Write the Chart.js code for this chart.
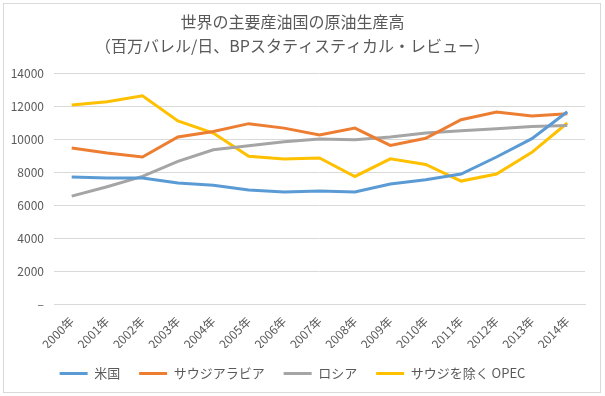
<!DOCTYPE html>
<html>
<head>
<meta charset="utf-8">
<script src="https://cdn.jsdelivr.net/npm/chart.js@4/dist/chart.umd.min.js"></script>
<style>
  body { margin: 0; background: #fff; }
  #wrap { position: relative; width: 605px; height: 396px; }
  #frame { position: absolute; left: 3px; top: 3px; width: 596px; height: 388px; border: 1px solid #d9d9d9; pointer-events: none; }
</style>
</head>
<body>
<div id="wrap">
  <canvas id="oilChart" width="605" height="396"></canvas>
  <div id="frame"></div>
</div>
<script>
const years = ["2000年", "2001年", "2002年", "2003年", "2004年", "2005年", "2006年", "2007年",
               "2008年", "2009年", "2010年", "2011年", "2012年", "2013年", "2014年"];
const usa = [7700, 7640, 7640, 7330, 7190, 6910, 6790, 6850, 6790, 7270, 7530, 7880, 8910, 10020, 11650];
const saudi = [9450, 9150, 8910, 10120, 10460, 10930, 10660, 10240, 10660, 9610, 10040, 11170, 11630, 11390, 11530];
const russia = [6540, 7110, 7730, 8640, 9350, 9590, 9830, 10000, 9960, 10120, 10360, 10500, 10620, 10760, 10820];
const opecExSaudi = [12060, 12260, 12620, 11090, 10360, 8950, 8790, 8850, 7730, 8800, 8460, 7450, 7880, 9190, 10970];
const seriesNames = ["米国", "サウジアラビア", "ロシア", "サウジを除く OPEC"];
const yTicks = [0, 2000, 4000, 6000, 8000, 10000, 12000, 14000];

const font = "'Noto Sans CJK JP', 'Noto Sans', sans-serif";
const textColor = "#595959";

function line(label, data, color) {
    return {
        label: label,
        data: data,
        borderColor: color,
        backgroundColor: color,
        borderWidth: 3,
        pointRadius: 0,
        tension: 0,
        fill: false
    };
}

const ctx = document.getElementById("oilChart").getContext("2d");
new Chart(ctx, {
    type: "line",
    data: {
        labels: years,
        datasets: [
            line(seriesNames[0], usa, "#5B9BD5"),
            line(seriesNames[1], saudi, "#ED7D31"),
            line(seriesNames[2], russia, "#A5A5A5"),
            line(seriesNames[3], opecExSaudi, "#FFC000")
        ]
    },
    options: {
        responsive: false,
        animation: false,
        layout: { padding: { left: 0, right: 20, top: 0, bottom: 6 } },
        plugins: {
            title: {
                display: true,
                text: ["世界の主要産油国の原油生産高", "（百万バレル/日、BPスタティスティカル・レビュー）"],
                color: textColor,
                font: { family: font, size: 16, weight: "normal", lineHeight: 1.5 },
                padding: { top: 10, bottom: 15 }
            },
            legend: {
                position: "bottom",
                labels: {
                    color: textColor,
                    font: { family: font, size: 13 },
                    boxWidth: 28,
                    boxHeight: 3,
                    padding: 19,
                    generateLabels: (chart) => {
                        return Chart.defaults.plugins.legend.labels.generateLabels(chart).map(item => {
                            item.lineWidth = 0;
                            item.fillStyle = item.strokeStyle;
                            return item;
                        });
                    }
                }
            },
            tooltip: { enabled: false }
        },
        scales: {
            x: {
                offset: true,
                grid: { display: false },
                border: { color: "#d9d9d9" },
                ticks: {
                    color: textColor,
                    font: { family: font, size: 12 },
                    maxRotation: 45,
                    minRotation: 45,
                    autoSkip: false,
                    padding: 2
                },
                afterFit: (scale) => { scale.height = 44; }
            },
            y: {
                min: 0,
                max: 14000,
                afterBuildTicks: (scale) => { scale.ticks = yTicks.map(v => ({ value: v })); },
                grid: { color: "#d9d9d9", drawTicks: false },
                border: { display: false },
                ticks: {
                    color: textColor,
                    font: { family: font, size: 12 },
                    padding: 10,
                    callback: (v) => v === 0 ? "–" : v
                },
                afterFit: (scale) => { scale.width = 54; }
            }
        }
    }
});
</script>
</body>
</html>
